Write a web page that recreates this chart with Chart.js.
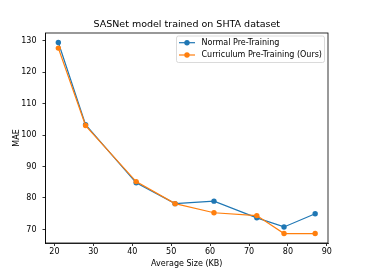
<!DOCTYPE html>
<html lang="en">
<head>
    <meta charset="UTF-8">
    <title>SASNet model trained on SHTA dataset</title>
    <script src="https://cdn.jsdelivr.net/npm/chart.js"></script>
    <style>
        body { margin: 0; background: #fff; }
        #wrap { width: 365px; height: 274px; }
    </style>
</head>
<body>
    <div id="wrap"><canvas id="myChart" width="365" height="274"></canvas></div>

    <script>
        // data
        const sizes = [21, 28, 41, 51, 61, 72, 79, 87];
        const normal_mae = [129.4, 103.3, 84.8, 78.2, 79.0, 73.7, 70.8, 75.0];
        const curriculum_mae = [127.6, 103.0, 85.2, 78.2, 75.3, 74.4, 68.7, 68.7];
        const x_ticks = [20, 30, 40, 50, 60, 70, 80, 90];
        const y_ticks = [70, 80, 90, 100, 110, 120, 130];

        const font = 'DejaVu Sans';
        const blue = '#1f77b4';
        const orange = '#ff7f0e';

        // title, axis titles, frame and legend drawn by hand like matplotlib
        const extras = {
            id: 'extras',
            afterDraw(chart) {
                const ctx = chart.ctx;
                const a = chart.chartArea;
                ctx.save();
                ctx.strokeStyle = '#000';
                ctx.lineWidth = 0.8;
                ctx.strokeRect(a.left, a.top, a.right - a.left, a.bottom - a.top);

                ctx.fillStyle = '#000';
                ctx.textAlign = 'center';
                ctx.textBaseline = 'middle';
                ctx.font = '9.5px "' + font + '"';
                ctx.fillText('SASNet model trained on SHTA dataset', (a.left + a.right) / 2, 25);
                ctx.font = '8px "' + font + '"';
                ctx.fillText('Average Size (KB)', (a.left + a.right) / 2, 264);
                ctx.translate(17, (a.top + a.bottom) / 2);
                ctx.rotate(-Math.PI / 2);
                ctx.fillText('MAE', 0, 0);
                ctx.restore();

                // legend
                ctx.save();
                const bx = 176.5, by = 36, bw = 148, bh = 26.5;
                ctx.fillStyle = 'rgba(255,255,255,0.8)';
                ctx.strokeStyle = '#d0d0d0';
                ctx.lineWidth = 0.8;
                ctx.beginPath();
                ctx.roundRect(bx, by, bw, bh, 2);
                ctx.fill();
                ctx.stroke();
                const rows = [['Normal Pre-Training', blue, 42.7], ['Curriculum Pre-Training (Ours)', orange, 55]];
                ctx.font = '8px "' + font + '"';
                ctx.textAlign = 'left';
                ctx.textBaseline = 'middle';
                rows.forEach(r => {
                    ctx.strokeStyle = r[1];
                    ctx.lineWidth = 1.2;
                    ctx.beginPath();
                    ctx.moveTo(179, r[2]);
                    ctx.lineTo(195, r[2]);
                    ctx.stroke();
                    ctx.fillStyle = r[1];
                    ctx.beginPath();
                    ctx.arc(187, r[2], 2.7, 0, Math.PI * 2);
                    ctx.fill();
                    ctx.fillStyle = '#000';
                    ctx.fillText(r[0], 201.5, r[2]);
                });
                ctx.restore();
            }
        };

        const ctx = document.getElementById('myChart').getContext('2d');
        const chart = new Chart(ctx, {
            type: 'line',
            data: {
                datasets: [
                    {
                        label: 'Normal Pre-Training',
                        data: sizes.map((s, i) => ({ x: s, y: normal_mae[i] })),
                        borderColor: blue,
                        backgroundColor: blue,
                        borderWidth: 1.2,
                        pointRadius: 2.7,
                        pointBorderWidth: 0,
                        order: 2
                    },
                    {
                        label: 'Curriculum Pre-Training (Ours)',
                        data: sizes.map((s, i) => ({ x: s, y: curriculum_mae[i] })),
                        borderColor: orange,
                        backgroundColor: orange,
                        borderWidth: 1.2,
                        pointRadius: 2.7,
                        pointBorderWidth: 0,
                        order: 1
                    }
                ]
            },
            options: {
                responsive: false,
                animation: false,
                devicePixelRatio: 1,
                layout: { padding: { top: 33, right: 37, left: 0, bottom: 0 } },
                plugins: {
                    legend: { display: false },
                    title: { display: false },
                    tooltip: { enabled: false }
                },
                scales: {
                    x: {
                        type: 'linear',
                        min: 17.7,
                        max: 90.3,
                        afterFit: s => { s.height = 31; },
                        afterBuildTicks: s => { s.ticks = x_ticks.map(v => ({ value: v })); },
                        grid: { drawOnChartArea: false, drawTicks: true, tickLength: 3, color: '#000', lineWidth: 0.8 },
                        border: { display: true, color: '#000', width: 0.8 },
                        ticks: { color: '#000', padding: 1, font: { family: font, size: 8 }, maxRotation: 0 }
                    },
                    y: {
                        min: 65.7,
                        max: 132.4,
                        afterFit: s => { s.width = 45.5; },
                        afterBuildTicks: s => { s.ticks = y_ticks.map(v => ({ value: v })); },
                        grid: { drawOnChartArea: false, drawTicks: true, tickLength: 3, color: '#000', lineWidth: 0.8 },
                        border: { display: true, color: '#000', width: 0.8 },
                        ticks: { color: '#000', padding: 6, font: { family: font, size: 8 } }
                    }
                }
            },
            plugins: [extras]
        });
    </script>
</body>
</html>
